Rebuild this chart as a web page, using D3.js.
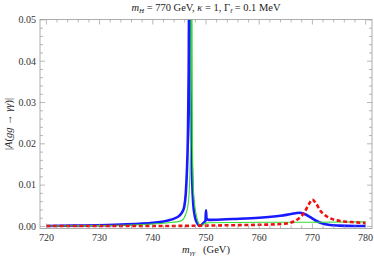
<!DOCTYPE html>
<html>
<head>
<meta charset="utf-8">
<script src="https://cdn.jsdelivr.net/npm/d3@7"></script>
<style>
  body { margin: 0; background: #fff; }
  text { font-family: "Liberation Serif", "Times New Roman", serif; }
</style>
</head>
<body>
<svg class="chart"></svg>
<script>
const size = {w: 374, h: 259};
const margin = {l: 40, r: 2, t: 19.5, b: 30.5};

// values: mass (GeV) and |A|
const blueMass = [720, 725, 730, 735, 738, 740, 742, 743, 744, 745, 745.5, 745.9, 746.2, 746.4, 746.6, 746.75, 746.85,
  746.95, 747.05, 747.2, 747.4, 747.6, 747.85, 748.1, 748.4, 748.8, 749.2, 749.6, 749.9, 750.0, 750.1, 750.5,
  751, 755, 760, 764, 766, 767.5, 768.5, 769.5, 770.5, 771.5, 773, 775, 778, 780];
const blueVal = [0.0001, 0.0002, 0.0003, 0.0005, 0.0007, 0.0009, 0.0012, 0.0015, 0.0019, 0.0026, 0.0034, 0.0047, 0.008, 0.013, 0.022, 0.038, 0.06,
  0.06, 0.038, 0.022, 0.011, 0.0055, 0.0028, 0.0015, 0.0007, 0.0001, 0.0004, 0.0009, 0.0014, 0.0039, 0.0019, 0.0016,
  0.0016, 0.0018, 0.0021, 0.0026, 0.003, 0.0033, 0.003, 0.0023, 0.0015, 0.0009, 0.0004, 0.0002, 0.0001, 0.0001];

const greenMass = [720, 730, 740, 743, 744.5, 745.5, 746.2, 746.6, 746.9, 747.1, 747.2, 747.35, 747.45, 747.6, 747.9,
  748.3, 748.7, 749.0, 749.4, 749.9, 750.5, 760, 770, 780];
const greenVal = [0.0001, 0.0002, 0.0006, 0.0009, 0.0011, 0.0015, 0.003, 0.005, 0.01, 0.02, 0.06, 0.06, 0.02, 0.01, 0.005,
  0.002, 0.0005, 0.0001, 0.0004, 0.0008, 0.0009, 0.001, 0.001, 0.0011];

const redMass = [720, 730, 740, 750, 755, 760, 763, 765, 766.5, 767.5, 768.5, 769.3, 770, 770.7, 771.5, 772.5, 773.5,
  774.5, 776, 778, 780];
const redVal = [0.0001, 0.0001, 0.0001, 0.0002, 0.0003, 0.0004, 0.0005, 0.0007, 0.0012, 0.002, 0.0034, 0.0053, 0.0065,
  0.0055, 0.0038, 0.0026, 0.0019, 0.0015, 0.0012, 0.001, 0.0008];

const xTicks = [720, 730, 740, 750, 760, 770, 780];
const yTicks = [0, 0.01, 0.02, 0.03, 0.04, 0.05];

const svg = d3.select('svg.chart').attr('width', size.w).attr('height', size.h);

const x = d3.scaleLinear().domain([718.8, 781.2]).range([margin.l, size.w - margin.r]);
const y = d3.scaleLinear().domain([-0.0005, 0.0501]).range([size.h - margin.b, margin.t]);

const x0 = margin.l, x1 = size.w - margin.r, y0 = size.h - margin.b, y1 = margin.t;

svg.append('defs').append('clipPath').attr('id', 'clip')
  .append('rect').attr('x', x0).attr('y', y1).attr('width', x1 - x0).attr('height', y0 - y1);

// curves
const line = d3.line().x(d => x(d[0])).y(d => y(d[1])).curve(d3.curveMonotoneX);
const plotG = svg.append('g').attr('clip-path', 'url(#clip)');

plotG.append('path').datum(d3.zip(blueMass, blueVal))
  .attr('d', line).attr('fill', 'none').attr('stroke', '#1a1aff').attr('stroke-width', 2.6)
  .attr('stroke-linejoin', 'round');
plotG.append('path').datum(d3.zip(greenMass, greenVal))
  .attr('d', line).attr('fill', 'none').attr('stroke', '#33dd33').attr('stroke-width', 1.1);
plotG.append('path').datum(d3.zip(redMass, redVal))
  .attr('d', line).attr('fill', 'none').attr('stroke', '#ee1111').attr('stroke-width', 2.6)
  .attr('stroke-dasharray', '4,2.6');

// frame and ticks
const frameCol = '#999';
svg.append('rect').attr('x', x0).attr('y', y1).attr('width', x1 - x0).attr('height', y0 - y1)
  .attr('fill', 'none').attr('stroke', frameCol).attr('stroke-width', 0.8);

const xMinor = d3.range(720, 781, 2).filter(v => v % 10 !== 0);
const yMinor = d3.range(0, 0.0501, 0.002).filter(v => Math.round(v * 1000) % 10 !== 0);
const tickG = svg.append('g').attr('stroke', frameCol).attr('stroke-width', 0.7);

xTicks.concat(xMinor).forEach(v => {
  const len = xTicks.includes(v) ? 5 : 3;
  tickG.append('line').attr('x1', x(v)).attr('x2', x(v)).attr('y1', y0).attr('y2', y0 - len);
  tickG.append('line').attr('x1', x(v)).attr('x2', x(v)).attr('y1', y1).attr('y2', y1 + len);
});
yTicks.concat(yMinor).forEach(v => {
  const len = yTicks.includes(v) ? 5 : 3;
  tickG.append('line').attr('x1', x0).attr('x2', x0 + len).attr('y1', y(v)).attr('y2', y(v));
  tickG.append('line').attr('x1', x1).attr('x2', x1 - len).attr('y1', y(v)).attr('y2', y(v));
});

// tick labels
svg.selectAll('text.xt').data(xTicks).join('text').attr('class', 'xt')
  .attr('x', d => x(d)).attr('y', y0 + 12.5).attr('text-anchor', 'middle')
  .attr('font-size', 10).attr('fill', '#333').text(d => d);
svg.selectAll('text.yt').data(yTicks).join('text').attr('class', 'yt')
  .attr('x', x0 - 4).attr('y', d => y(d) + 3.3).attr('text-anchor', 'end')
  .attr('font-size', 10).attr('fill', '#333').text(d => d3.format('.2f')(d));

// title
const title = svg.append('text').attr('x', (x0 + x1) / 2).attr('y', 11)
  .attr('text-anchor', 'middle').attr('font-size', 10.5).attr('fill', '#222');
title.append('tspan').attr('font-style', 'italic').text('m');
title.append('tspan').attr('font-size', 7).attr('font-style', 'italic').attr('dy', 2).text('H');
title.append('tspan').attr('dy', -2).text(' = 770 GeV, ');
title.append('tspan').attr('font-style', 'italic').text('κ');
title.append('tspan').text(' = 1, Γ');
title.append('tspan').attr('font-size', 7).attr('font-style', 'italic').attr('dy', 2).text('t̃');
title.append('tspan').attr('dy', -2).text(' = 0.1 MeV');

// x label
const xl = svg.append('text').attr('x', (x0 + x1) / 2).attr('y', 253)
  .attr('text-anchor', 'middle').attr('font-size', 10.5).attr('fill', '#222');
xl.append('tspan').attr('font-style', 'italic').text('m');
xl.append('tspan').attr('font-size', 7).attr('font-style', 'italic').attr('dy', 2).text('γγ');
xl.append('tspan').attr('dy', -2).text('\u00a0\u00a0\u00a0(GeV)');

// y label
const yl = svg.append('text').attr('transform', `translate(12,${(y0 + y1) / 2}) rotate(-90)`)
  .attr('text-anchor', 'middle').attr('font-size', 10.5).attr('fill', '#222');
yl.append('tspan').text('|');
yl.append('tspan').attr('font-style', 'italic').text('A');
yl.append('tspan').text('(');
yl.append('tspan').attr('font-style', 'italic').text('gg');
yl.append('tspan').text(' → ');
yl.append('tspan').attr('font-style', 'italic').text('γγ');
yl.append('tspan').text(')|');
</script>
</body>
</html>
